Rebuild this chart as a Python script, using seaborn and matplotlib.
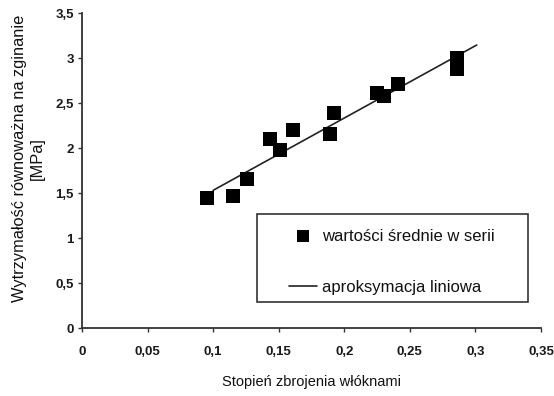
import matplotlib
matplotlib.use("Agg")
import matplotlib.pyplot as plt
import seaborn as sns
import pandas as pd
from matplotlib.ticker import FuncFormatter
from matplotlib.patches import Rectangle

# data
fiber_ratio = [0.095, 0.115, 0.126, 0.143, 0.151, 0.161, 0.189, 0.192,
               0.225, 0.230, 0.241, 0.286, 0.286]
strength = [1.44, 1.47, 1.66, 2.10, 1.98, 2.20, 2.16, 2.39,
            2.61, 2.58, 2.71, 3.00, 2.88]
fit_x = [0.100, 0.301]
fit_y = [1.53, 3.145]

x_ticks = [0, 0.05, 0.1, 0.15, 0.2, 0.25, 0.3, 0.35]
y_ticks = [0, 0.5, 1, 1.5, 2, 2.5, 3, 3.5]

label_points = "wartości średnie w serii"
label_line = "aproksymacja liniowa"
xlabel = "Stopień zbrojenia włóknami"
ylabel = "Wytrzymałość równoważna na zginanie\n[MPa]"

sns.set_style("white")
plt.rcParams['font.family'] = ['Liberation Sans Narrow', 'Liberation Sans', 'DejaVu Sans']

fig = plt.figure(figsize=(5.54, 3.96), dpi=100)
ax = fig.add_axes([0.148, 0.1717, 0.8285, 0.7953])

pts = pd.DataFrame({"x": fiber_ratio, "y": strength})
fit = pd.DataFrame({"x": fit_x, "y": fit_y})

sns.lineplot(data=fit, x="x", y="y", ax=ax, color="#222222", linewidth=1.2,
             label=label_line, zorder=2)
sns.scatterplot(data=pts, x="x", y="y", ax=ax, marker="s", s=90, color="black",
                edgecolor="black", linewidth=0, label=label_points, zorder=3)

ax.set_xlim(0, 0.35)
ax.set_ylim(0, 3.5)
ax.set_xticks(x_ticks)
ax.set_yticks(y_ticks)

def fmt(v, pos):
    return ("%g" % v).replace(".", ",")
ax.xaxis.set_major_formatter(FuncFormatter(fmt))
ax.yaxis.set_major_formatter(FuncFormatter(fmt))

for side in ["top", "right"]:
    ax.spines[side].set_visible(False)
for side in ["left", "bottom"]:
    ax.spines[side].set_color("#333333")
    ax.spines[side].set_linewidth(1.3)

ax.tick_params(axis="both", which="major", direction="out", length=3, width=1,
               color="#333333", labelsize=9.5, labelcolor="#1a1a1a",
               left=True, bottom=True)
ax.tick_params(axis="x", pad=10)
ax.tick_params(axis="y", pad=3)
for lbl in ax.get_xticklabels() + ax.get_yticklabels():
    lbl.set_fontweight("bold")

ax.set_xlabel(xlabel, fontsize=10.5, color="#111111", labelpad=12)
ax.set_ylabel(ylabel, fontsize=11.8, color="#111111", linespacing=1.3)
ax.yaxis.set_label_coords(-0.08, 0.538)

# legend frame + entries
ax.add_patch(Rectangle((0.382, 0.0835), 0.59, 0.28, transform=ax.transAxes,
                       facecolor="white", edgecolor="#333333", linewidth=1.2,
                       zorder=4, clip_on=False))
handles, labels = ax.get_legend_handles_labels()
order = [labels.index(label_points), labels.index(label_line)]
leg = ax.legend([handles[i] for i in order], [labels[i] for i in order],
                loc="upper left", bbox_to_anchor=(0.451, 0.315),
                borderaxespad=0, borderpad=0, frameon=False,
                fontsize=12, labelspacing=2.15,
                handlelength=1.68, handletextpad=0.3, markerscale=0.9)
leg.set_zorder(5)
for t in leg.get_texts():
    t.set_color("#111111")

fig.savefig("out.png", dpi=100)
